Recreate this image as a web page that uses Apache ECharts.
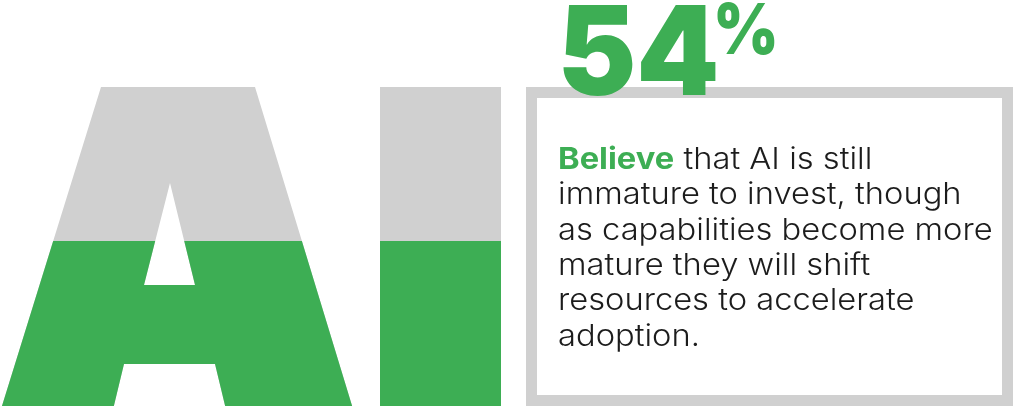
<!DOCTYPE html>
<html>
<head>
<meta charset="utf-8">
<script src="https://cdn.jsdelivr.net/npm/echarts@6/dist/echarts.min.js"></script>
<style>
  html, body { margin: 0; padding: 0; background: #ffffff; }
  #chart { width: 1014px; height: 406px; }
</style>
</head>
<body>
<div id="chart"></div>
<script>
// Letters that act as the "containers" of the fill gauge
const letters = ['A', 'I'];
// Share of respondents (percent) and the full scale of the gauge
const share = 54;
const fullScale = 100;
// Statement text
const headline = 'Believe';
const bodyLines = [
  ' that AI is still',
  'immature to invest, though',
  'as capabilities become more',
  'mature they will shift',
  'resources to accelerate',
  'adoption.'
];

const GREEN = '#3dae54';
const GRAY = '#d0d0d0';
const INK = '#1c1c1c';

// Outline of each letter (shape only; the symbol box scales it)
const glyphs = {
  A: 'path://M0 335L104 0L258 0L360 335L232 335L218 277L127 277L113 335Z M173 96L147 198L198 198Z',
  I: 'path://M0 0H121V335H0Z'
};
const glyphWidth = { A: 360, I: 121 };

function letterItems(value) {
  return letters.map(l => ({
    value: value,
    symbol: glyphs[l],
    symbolSize: [glyphWidth[l], '100%']
  }));
}

const chart = echarts.init(document.getElementById('chart'), null, { renderer: 'canvas' });

const bodyText = '{b|' + headline + '}{n|' + bodyLines[0] + '}\n' +
  bodyLines.slice(1).map(t => '{n|' + t + '}').join('\n');

chart.setOption({
  animation: false,
  backgroundColor: '#ffffff',
  // the letters run a little past the bottom edge of the canvas
  grid: {
    left: 45.25, right: 441.75, top: 87, height: 335,
    containLabel: false,
    outerBoundsMode: 'none'
  },
  xAxis: { type: 'category', data: letters, show: false },
  yAxis: { type: 'value', min: 0, max: fullScale, show: false },
  series: [
    {
      type: 'pictorialBar',
      barGap: '-100%',
      symbolBoundingData: fullScale,
      symbolKeepAspect: false,
      itemStyle: { color: GRAY },
      silent: true,
      z: 2,
      data: letterItems(fullScale)
    },
    {
      type: 'pictorialBar',
      barGap: '-100%',
      symbolClip: true,
      symbolBoundingData: fullScale,
      symbolKeepAspect: false,
      itemStyle: { color: GREEN },
      silent: true,
      z: 3,
      data: letterItems(share)
    }
  ],
  graphic: [
    {
      type: 'rect',
      z: 1,
      shape: { x: 531.5, y: 92.5, width: 476, height: 308 },
      style: { fill: '#ffffff', stroke: GRAY, lineWidth: 11 }
    },
    {
      type: 'text',
      z: 5,
      x: 557.4, y: -4.3,
      scaleX: 0.955,
      style: {
        text: String(share),
        font: '900 124px Inter',
        fill: GREEN,
        verticalAlign: 'top',
        lineHeight: 124
      }
    },
    {
      type: 'text',
      z: 5,
      x: 713, y: -2,
      scaleX: 0.9,
      style: {
        text: '%',
        font: '900 70px Inter',
        fill: GREEN,
        verticalAlign: 'top',
        lineHeight: 70
      }
    },
    {
      type: 'text',
      z: 5,
      x: 558, y: 142,
      scaleX: 1.09,
      style: {
        text: bodyText,
        verticalAlign: 'top',
        rich: {
          b: { font: '700 30px Inter', fill: GREEN, lineHeight: 35.4 },
          n: { font: '300 30px Inter', fill: INK, lineHeight: 35.4 }
        }
      }
    }
  ]
});
</script>
</body>
</html>
